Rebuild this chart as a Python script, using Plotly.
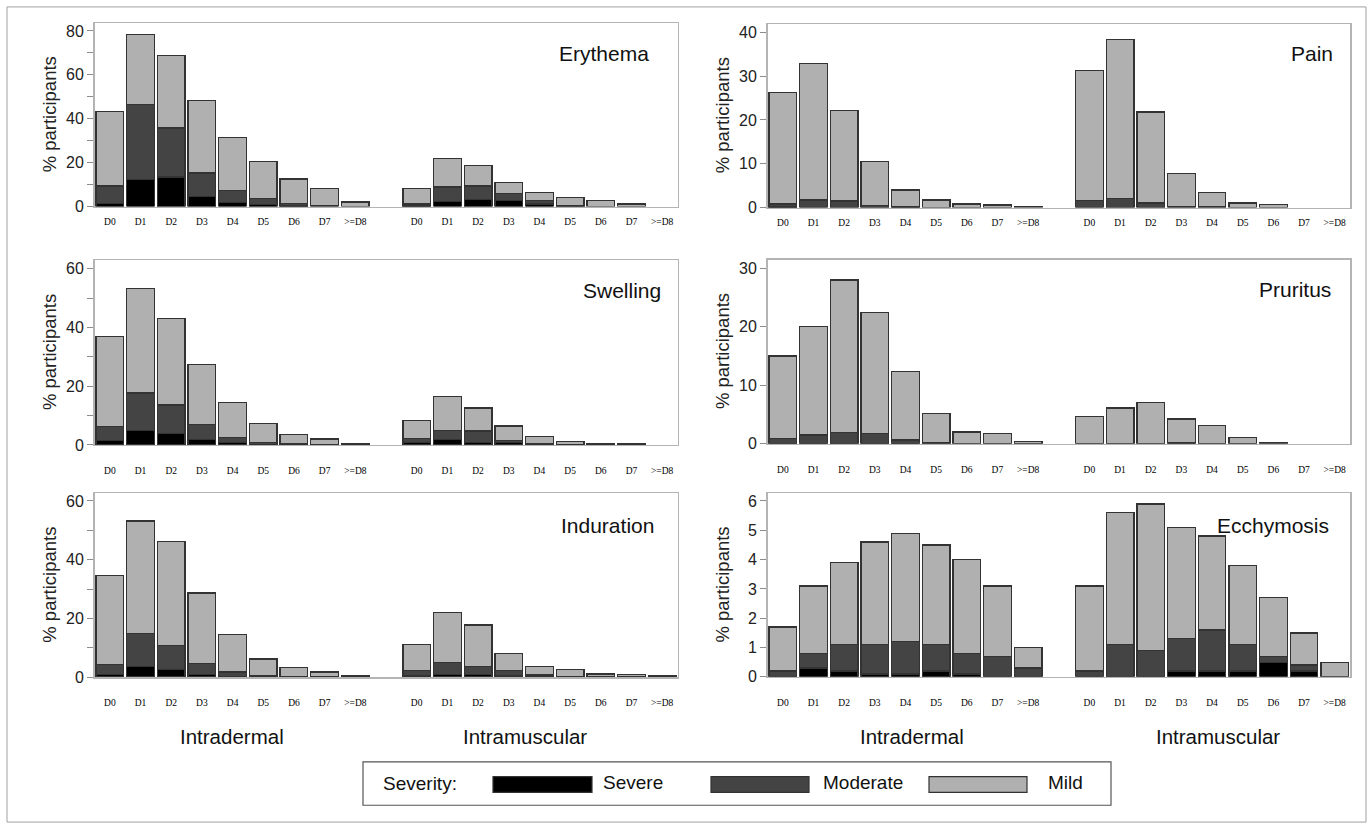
import plotly.graph_objects as go

W, H = 1372, 837
OFF = 0  # body margin removed in the page (see post_script)

# ---------------- data ----------------
days = ["D0", "D1", "D2", "D3", "D4", "D5", "D6", "D7", ">=D8"]
routes = ["Intradermal", "Intramuscular"]
positions = list(range(0, 9)) + list(range(10, 19))
tick_labels = days + days
severities = ["Severe", "Moderate", "Mild"]
panels = ["Erythema", "Pain", "Swelling", "Pruritus", "Induration", "Ecchymosis"]

# each list: 9 intradermal days followed by 9 intramuscular days
erythema_severe = [1.5, 12.3, 13.5, 4.5, 1.8, 1.0, 0.3, 0, 0,
                   0.2, 2.3, 3.3, 2.7, 1.2, 0, 0, 0, 0]
erythema_moderate = [7.8, 34.3, 22.3, 10.8, 5.6, 2.6, 1.2, 0.6, 0,
                     1.0, 6.6, 6.0, 3.2, 1.4, 0.3, 0, 0, 0]
erythema_mild = [33.9, 31.9, 32.9, 33.1, 24.2, 16.9, 11.1, 7.7, 2.0,
                 7.1, 12.9, 9.3, 5.1, 3.9, 3.8, 2.7, 1.2, 0]

pain_severe = [0.1, 0, 0, 0, 0, 0, 0, 0, 0,
               0, 0, 0, 0, 0, 0, 0, 0, 0]
pain_moderate = [0.7, 1.7, 1.5, 0.45, 0.1, 0, 0, 0, 0,
                 1.6, 2.1, 1.0, 0.3, 0.3, 0, 0, 0, 0]
pain_mild = [25.4, 31.2, 20.6, 10.05, 3.9, 1.7, 0.8, 0.6, 0.3,
             29.7, 36.3, 20.8, 7.4, 3.1, 1.0, 0.7, 0, 0]

swelling_severe = [1.5, 5.0, 3.9, 1.8, 0.8, 0.2, 0, 0, 0,
                   0.8, 1.8, 0.8, 0.8, 0, 0, 0, 0, 0]
swelling_moderate = [4.8, 12.7, 9.7, 5.2, 1.7, 0.6, 0.3, 0, 0,
                     1.3, 3.2, 3.9, 0.7, 0.3, 0, 0, 0, 0]
swelling_mild = [30.7, 35.6, 29.4, 20.3, 11.9, 6.6, 3.2, 2.0, 0.5,
                 6.1, 11.5, 7.9, 4.9, 2.6, 1.1, 0.6, 0.6, 0]

pruritus_severe = [0, 0, 0, 0, 0, 0, 0, 0, 0,
                   0, 0, 0, 0, 0, 0, 0, 0, 0]
pruritus_moderate = [0.9, 1.5, 1.9, 1.75, 0.6, 0.2, 0, 0, 0,
                     0, 0, 0, 0.2, 0, 0, 0, 0, 0]
pruritus_mild = [14.1, 18.6, 26.1, 20.65, 11.8, 4.9, 2.0, 1.75, 0.4,
                 4.7, 6.1, 7.1, 4.0, 3.1, 1.1, 0.2, 0, 0]

induration_severe = [0.9, 3.5, 2.6, 1.0, 0.3, 0, 0, 0, 0,
                     0.5, 1.0, 1.0, 0.5, 0, 0, 0, 0, 0]
induration_moderate = [3.5, 11.4, 8.2, 3.6, 1.4, 0.4, 0, 0, 0,
                       1.8, 4.1, 2.6, 1.8, 0.7, 0, 0, 0, 0]
induration_mild = [30.3, 38.3, 35.4, 24.1, 12.8, 5.8, 3.3, 1.7, 0.4,
                   8.7, 17.0, 14.2, 5.8, 2.9, 2.5, 1.1, 0.9, 0.4]

ecchymosis_severe = [0, 0.3, 0.2, 0.1, 0.1, 0.2, 0.1, 0, 0,
                     0, 0, 0, 0.2, 0.2, 0.2, 0.5, 0.2, 0]
ecchymosis_moderate = [0.2, 0.5, 0.9, 1.0, 1.1, 0.9, 0.7, 0.7, 0.3,
                       0.2, 1.1, 0.9, 1.1, 1.4, 0.9, 0.2, 0.2, 0]
ecchymosis_mild = [1.5, 2.3, 2.8, 3.5, 3.7, 3.4, 3.2, 2.4, 0.7,
                   2.9, 4.5, 5.0, 3.8, 3.2, 2.7, 2.0, 1.1, 0.5]

y_tick_step = [20, 10, 20, 10, 20, 1]
y_minor_step = [10, None, 10, None, 10, None]
y_max = [83.5, 41.9, 62.9, 31.5, 62.6, 6.26]

# ---------------- layout constants (screen pixels) ----------------
boxes = [  # x0, x1, ytop, ybottom
    (94.5, 677.5, 22.5, 208.0),
    (767.5, 1350.0, 23.3, 209.0),
    (94.5, 677.5, 262.3, 449.3),
    (767.5, 1350.0, 261.7, 448.0),
    (94.5, 677.5, 498.3, 684.3),
    (767.5, 1350.0, 498.3, 684.0),
]
label_standoff = [6, 6, 16, 16, 16, 16]
title_pos = [(651, 53), (1335, 53), (663, 293), (1333, 292), (656, 531), (1331, 531)]

colors = {"Severe": "#000000", "Moderate": "#444444", "Mild": "#b0b0b0"}


def px(x):
    return (x - OFF) / W


def py(y):
    return 1 - (y - OFF) / H


series = {
    "Erythema": (erythema_severe, erythema_moderate, erythema_mild),
    "Pain": (pain_severe, pain_moderate, pain_mild),
    "Swelling": (swelling_severe, swelling_moderate, swelling_mild),
    "Pruritus": (pruritus_severe, pruritus_moderate, pruritus_mild),
    "Induration": (induration_severe, induration_moderate, induration_mild),
    "Ecchymosis": (ecchymosis_severe, ecchymosis_moderate, ecchymosis_mild),
}

fig = go.Figure()
layout = dict(
    width=W, height=H, margin=dict(l=0, r=0, t=0, b=0),
    paper_bgcolor="white", plot_bgcolor="white",
    barmode="stack", showlegend=False, bargap=0.1, hovermode=False,
    font=dict(family="Arial, Liberation Sans", color="#222"),
)
annotations = []
shapes = []

for i, name in enumerate(panels):
    n = i + 1
    xa = "x" if n == 1 else f"x{n}"
    ya = "y" if n == 1 else f"y{n}"
    for sev, vals in zip(severities, series[name]):
        fig.add_trace(go.Bar(
            x=positions, y=[v if v else None for v in vals],
            xaxis=xa, yaxis=ya, name=sev, width=0.9,
            marker=dict(color=colors[sev], line=dict(color="#333333", width=1.3)),
        ))
    x0, x1, yt, yb = boxes[i]
    xkey = "xaxis" if n == 1 else f"xaxis{n}"
    ykey = "yaxis" if n == 1 else f"yaxis{n}"
    layout[xkey] = dict(
        domain=[px(x0), px(x1)], anchor=ya, range=[-0.5, 18.5],
        tickmode="array", tickvals=positions, ticktext=tick_labels,
        showline=True, mirror=True, linecolor="#b4b4b4", linewidth=1.5,
        ticks="", showgrid=False, zeroline=False, ticklabelstandoff=label_standoff[i],
        tickfont=dict(family="Liberation Serif, Times New Roman", size=9.5, color="#000"),
    )
    yd = dict(
        domain=[py(yb), py(yt)], anchor=xa, range=[0, y_max[i]],
        dtick=y_tick_step[i], tick0=0,
        showline=True, mirror=True, linecolor="#b4b4b4", linewidth=1.5,
        ticks="outside", ticklen=6, tickcolor="#8c8c8c", tickwidth=1,
        showgrid=False, zeroline=False,
        tickfont=dict(size=16, color="#222"),
    )
    if y_minor_step[i]:
        yd["minor"] = dict(dtick=y_minor_step[i], ticks="outside", ticklen=6,
                           tickcolor="#8c8c8c", tickwidth=1, showgrid=False)
    layout[ykey] = yd

    # panel title
    tx, ty = title_pos[i]
    annotations.append(dict(text=name, x=px(tx), y=py(ty), xref="paper", yref="paper",
                            xanchor="right", yanchor="middle", showarrow=False,
                            font=dict(size=21, color="#111")))
    # y axis title
    annotations.append(dict(text="% participants", x=px(x0 - 45), y=py((yt + yb) / 2),
                            xref="paper", yref="paper", textangle=-90,
                            xanchor="center", yanchor="middle", showarrow=False,
                            font=dict(size=18.5, color="#222")))

# route labels
for cx, label in [(232, routes[0]), (525, routes[1]), (912, routes[0]), (1218, routes[1])]:
    annotations.append(dict(text=label, x=px(cx), y=py(744), xref="paper", yref="paper",
                            xanchor="center", yanchor="middle", showarrow=False,
                            font=dict(size=20.5, color="#111")))

# legend box
shapes.append(dict(type="rect", xref="paper", yref="paper",
                   x0=px(363), x1=px(1111), y0=py(814), y1=py(770),
                   line=dict(color="#555", width=1.2), fillcolor="white"))
annotations.append(dict(text="Severity:", x=px(381), y=py(792), xref="paper", yref="paper",
                        xanchor="left", yanchor="middle", showarrow=False,
                        font=dict(size=19, color="#111")))
legend_items = [(493, 592, 601, "Severe"), (711, 809, 821, "Moderate"), (929, 1027, 1046, "Mild")]
for sx0, sx1, tx, sev in legend_items:
    shapes.append(dict(type="rect", xref="paper", yref="paper",
                       x0=px(sx0), x1=px(sx1), y0=py(801), y1=py(785),
                       line=dict(color="#333", width=1.2), fillcolor=colors[sev]))
    annotations.append(dict(text=sev, x=px(tx), y=py(791), xref="paper", yref="paper",
                            xanchor="left", yanchor="middle", showarrow=False,
                            font=dict(size=19, color="#111")))

# outer frame
shapes.append(dict(type="rect", xref="paper", yref="paper",
                   x0=px(7), x1=px(1366), y0=py(831), y1=py(6),
                   line=dict(color="#a0a0a0", width=1), layer="below"))

layout["annotations"] = annotations
layout["shapes"] = shapes
fig.update_layout(**layout)
fig.write_html(
    "out.html",
    config={"displayModeBar": False, "staticPlot": True},
    post_script="document.body.style.margin='0';document.body.style.overflow='hidden';",
)
